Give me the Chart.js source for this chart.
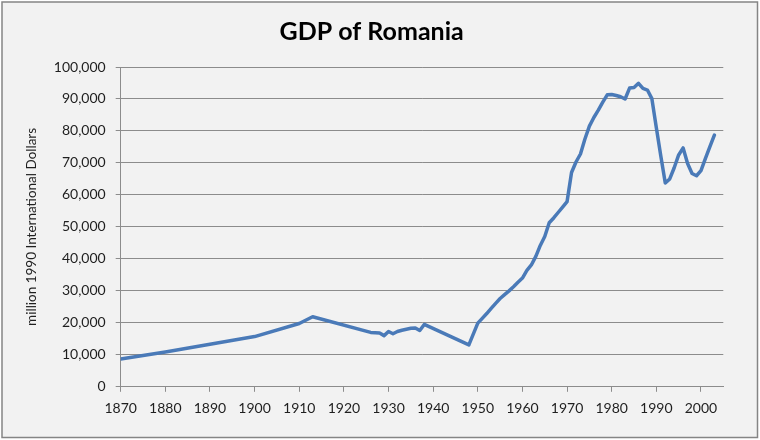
<!DOCTYPE html>
<html>
<head>
<meta charset="utf-8">
<title>GDP of Romania</title>
<script src="https://cdn.jsdelivr.net/npm/chart.js@4.4.1/dist/chart.umd.min.js"></script>
<style>
  body { margin: 0; background: #ffffff; }
</style>
</head>
<body>
<canvas id="gdpChart" width="760" height="440"></canvas>
<script>
// years with a value (gaps are joined by straight lines)
var years = [
  1870, 1880, 1890, 1900, 1910, 1913,
  1926, 1927, 1928, 1929, 1930, 1931, 1932, 1933, 1934, 1935, 1936, 1937, 1938,
  1948,
  1950, 1951, 1952, 1953, 1954, 1955, 1956, 1957, 1958, 1959,
  1960, 1961, 1962, 1963, 1964, 1965, 1966, 1967, 1968, 1969,
  1970, 1971, 1972, 1973, 1974, 1975, 1976, 1977, 1978, 1979,
  1980, 1981, 1982, 1983, 1984, 1985, 1986, 1987, 1988, 1989,
  1990, 1991, 1992, 1993, 1994, 1995, 1996, 1997, 1998, 1999,
  2000, 2001, 2002, 2003
];

// million 1990 international dollars
var gdp = [
  8700, 10900, 13300, 15700, 19800, 21900,
  17000, 16900, 16800, 16000, 17300, 16600, 17300, 17700, 18000, 18300, 18400, 17600, 19500,
  13100,
  19900, 21400, 22900, 24500, 26100, 27600, 28800, 30000, 31300, 32700,
  34000, 36400, 38100, 40800, 44200, 47000, 51300, 52800, 54500, 56200,
  57900, 67000, 70300, 72800, 77500, 81500, 84200, 86500, 89000, 91300,
  91400, 91100, 90700, 90000, 93400, 93600, 94900, 93300, 92800, 90100,
  81000, 72200, 63700, 65000, 68500, 72500, 74700, 69800, 66700, 66000,
  67600, 71400, 75100, 78700
];

// axis ranges / tick steps
var xRange = [1870, 2005];
var xStep = 10;
var yRange = [0, 100000];
var yStep = 10000;

var gridGray = '#8c8c8c';
var textColor = '#1f1f1f';
var fontFamily = 'Lato, "Open Sans", sans-serif';

// background + outer frame like the Excel chart area
var chartFrame = {
  id: 'chartFrame',
  beforeDraw: function (chart) {
    var ctx = chart.ctx;
    ctx.save();
    ctx.fillStyle = '#ffffff';
    ctx.fillRect(0, 0, chart.width, chart.height);
    ctx.fillStyle = '#f2f2f2';
    ctx.fillRect(2, 2, chart.width - 4, chart.height - 4);
    ctx.strokeStyle = '#858585';
    ctx.lineWidth = 1.5;
    ctx.strokeRect(2, 2, chart.width - 4.5, chart.height - 4.5);
    ctx.restore();
  }
};

var points = years.map(function (yr, i) {
  return { x: yr, y: gdp[i] };
});

new Chart(document.getElementById('gdpChart'), {
  type: 'line',
  data: {
    datasets: [{
      label: 'GDP',
      data: points,
      borderColor: '#4a7ab8',
      backgroundColor: '#4a7ab8',
      borderWidth: 3.5,
      borderJoinStyle: 'round',
      borderCapStyle: 'round',
      pointRadius: 0,
      tension: 0,
      fill: false
    }]
  },
  options: {
    responsive: false,
    animation: false,
    layout: {
      padding: { left: 20, right: 36.7, top: 0, bottom: 0 }
    },
    plugins: {
      legend: { display: false },
      tooltip: { enabled: false },
      title: {
        display: true,
        text: 'GDP of Romania',
        color: '#000000',
        font: { family: fontFamily, size: 25, weight: 'bold', lineHeight: 1.2 },
        padding: { top: 17, bottom: 20 }
      }
    },
    scales: {
      x: {
        type: 'linear',
        min: xRange[0],
        max: xRange[1],
        grid: {
          drawOnChartArea: false,
          drawTicks: true,
          tickLength: 5,
          color: gridGray
        },
        border: { color: gridGray, width: 1 },
        ticks: {
          stepSize: xStep,
          includeBounds: false,
          maxRotation: 0,
          autoSkip: false,
          padding: 8,
          color: textColor,
          font: { family: fontFamily, size: 14 },
          callback: function (v) { return String(v); }
        },
        afterFit: function (scale) {
          scale.height = 440 - 386.8;
        }
      },
      y: {
        min: yRange[0],
        max: yRange[1],
        grid: {
          color: gridGray,
          drawTicks: true,
          tickLength: 5
        },
        border: { color: gridGray, width: 1 },
        ticks: {
          stepSize: yStep,
          padding: 10,
          color: textColor,
          font: { family: fontFamily, size: 14 },
          callback: function (v) { return v.toLocaleString('en-US'); }
        },
        title: {
          display: true,
          text: 'million 1990 International Dollars',
          color: textColor,
          font: { family: fontFamily, size: 13.5 }
        },
        afterFit: function (scale) {
          scale.width = 120.7 - 20;
        }
      }
    }
  },
  plugins: [chartFrame]
});
</script>
</body>
</html>
